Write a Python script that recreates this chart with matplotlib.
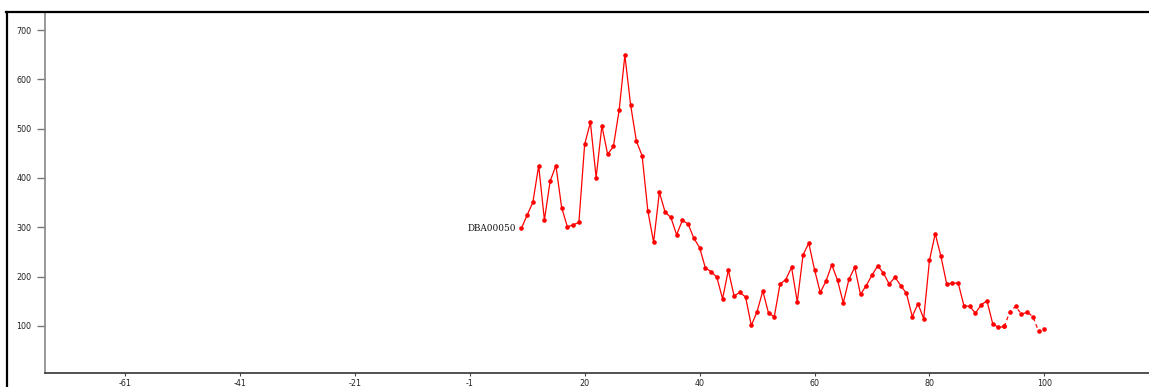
import matplotlib
matplotlib.use("Agg")
import matplotlib.pyplot as plt
from matplotlib.lines import Line2D

# series: one point per position, 9..100
start_x = 9
values = [
    298, 325, 351, 425, 315, 394, 425, 340, 301, 305,
    310, 468, 513, 401, 506, 448, 464, 537, 649, 548,
    475, 445, 333, 270, 371, 331, 320, 285, 314, 307,
    278, 259, 218, 210, 199, 155, 213, 161, 168, 159,
    101, 129, 171, 126, 119, 185, 194, 219, 149, 244,
    268, 214, 168, 191, 224, 193, 147, 195, 219, 164,
    182, 203, 222, 207, 185, 199, 182, 166, 119, 145,
    115, 233, 287, 241, 185, 187, 187, 141, 140, 126,
    143, 151, 105, 97, 99, 129, 140, 124, 128, 119,
    89, 93,
]
xs = list(range(start_x, start_x + len(values)))
series_label = "DBA00050"
dashed_from = 93  # tail of the series is drawn broken

tick_pos = [-60, -40, -20, 0, 20, 40, 60, 80, 100]
tick_labels = ["-61", "-41", "-21", "-1", "20", "40", "60", "80", "100"]
y_ticks = [100, 200, 300, 400, 500, 600, 700]

W, H = 1149, 387
fig = plt.figure(figsize=(W / 100, H / 100), dpi=100)
ax = fig.add_axes([45 / W, 1 - 373 / H, 1 - 45 / W, (373 - 12) / H])

# solid part and dashed tail
cut = xs.index(dashed_from)
ax.plot(xs[:cut + 1], values[:cut + 1], color="#ff0000", lw=0.9,
        marker="o", ms=2.3, mec="#ff0000", mfc="#ff0000")
ax.plot(xs[cut:], values[cut:], color="#ff0000", lw=0.9, ls=(0, (3, 2.5)),
        marker="o", ms=2.3, mec="#ff0000", mfc="#ff0000")

ax.annotate(series_label, (xs[0], values[0]), xytext=(-3.5, 0),
            textcoords="offset points", ha="right", va="center",
            fontsize=6.4, family="DejaVu Serif", color="#111111")

ax.set_xlim(-73.9, 118.2)
ax.set_ylim(4.7, 736.5)
ax.set_xticks(tick_pos)
ax.set_xticklabels(tick_labels)
ax.set_yticks(y_ticks)

ax.tick_params(axis="y", direction="out", length=5.8, width=1, color="#777777",
               labelsize=5.8, labelcolor="#222222", pad=4)
ax.tick_params(axis="x", direction="out", length=2, width=0.8, color="#444444",
               labelsize=5.8, labelcolor="#222222", pad=2)

for s in ("top", "right"):
    ax.spines[s].set_visible(False)
ax.spines["left"].set_color("#888888")
ax.spines["left"].set_linewidth(1.2)
ax.spines["bottom"].set_color("#333333")
ax.spines["bottom"].set_linewidth(1.2)

# black outer frame (top and left edges)
fig.add_artist(Line2D([6 / W, 1], [1 - 11.5 / H, 1 - 11.5 / H], color="black", lw=1.6,
                      transform=fig.transFigure))
fig.add_artist(Line2D([7 / W, 7 / W], [0, 1 - 11.5 / H], color="black", lw=1.6,
                      transform=fig.transFigure))

fig.savefig("out.png", dpi=100)
